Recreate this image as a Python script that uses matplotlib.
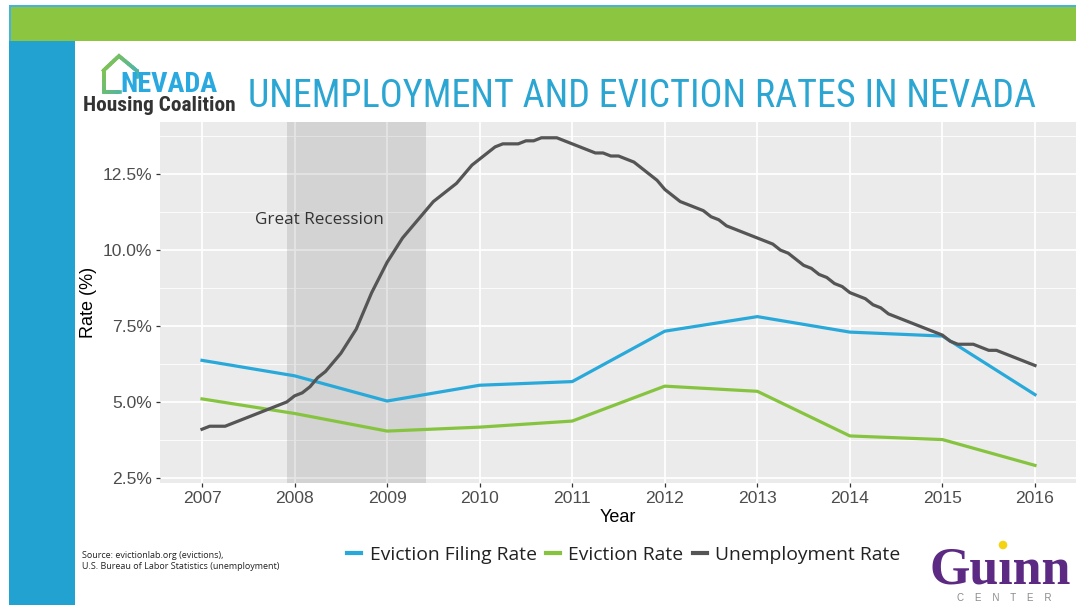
import numpy as np
import matplotlib
matplotlib.use("Agg")
import matplotlib.pyplot as plt
from matplotlib import font_manager
from matplotlib.collections import LineCollection
from matplotlib.patches import Rectangle, Circle
from matplotlib.lines import Line2D
from matplotlib.colors import to_rgb

# ---------------- data ----------------
years = [2007, 2008, 2009, 2010, 2011, 2012, 2013, 2014, 2015, 2016]
eviction_filing_rate = [6.37, 5.86, 5.03, 5.55, 5.67, 7.33, 7.81, 7.30, 7.17, 5.24]
eviction_rate = [5.10, 4.62, 4.04, 4.17, 4.37, 5.52, 5.35, 3.88, 3.76, 2.91]

# monthly unemployment rate, Jan 2007 .. Jan 2016
unemp_2007 = [4.1, 4.2, 4.2, 4.2, 4.3, 4.4, 4.5, 4.6, 4.7, 4.8, 4.9, 5.0]
unemp_2008 = [5.2, 5.3, 5.5, 5.8, 6.0, 6.3, 6.6, 7.0, 7.4, 8.0, 8.6, 9.1]
unemp_2009 = [9.6, 10.0, 10.4, 10.7, 11.0, 11.3, 11.6, 11.8, 12.0, 12.2, 12.5, 12.8]
unemp_2010 = [13.0, 13.2, 13.4, 13.5, 13.5, 13.5, 13.6, 13.6, 13.7, 13.7, 13.7, 13.6]
unemp_2011 = [13.5, 13.4, 13.3, 13.2, 13.2, 13.1, 13.1, 13.0, 12.9, 12.7, 12.5, 12.3]
unemp_2012 = [12.0, 11.8, 11.6, 11.5, 11.4, 11.3, 11.1, 11.0, 10.8, 10.7, 10.6, 10.5]
unemp_2013 = [10.4, 10.3, 10.2, 10.0, 9.9, 9.7, 9.5, 9.4, 9.2, 9.1, 8.9, 8.8]
unemp_2014 = [8.6, 8.5, 8.4, 8.2, 8.1, 7.9, 7.8, 7.7, 7.6, 7.5, 7.4, 7.3]
unemp_2015 = [7.2, 7.0, 6.9, 6.9, 6.9, 6.8, 6.7, 6.7, 6.6, 6.5, 6.4, 6.3]
unemp_2016 = [6.2]
unemployment_rate = (unemp_2007 + unemp_2008 + unemp_2009 + unemp_2010 + unemp_2011 +
                     unemp_2012 + unemp_2013 + unemp_2014 + unemp_2015 + unemp_2016)

recession = [2007 + 11 / 12, 2009 + 5 / 12]   # Dec 2007 - Jun 2009
y_ticks = [2.5, 5.0, 7.5, 10.0, 12.5]
y_minor = [3.75, 6.25, 8.75, 11.25, 13.75]
series_labels = ["Eviction Filing Rate", "Eviction Rate", "Unemployment Rate"]

title_text = "UNEMPLOYMENT AND EVICTION RATES IN NEVADA"
source_text = "Source: evictionlab.org (evictions),\nU.S. Bureau of Labor Statistics (unemployment)"

# ---------------- fonts ----------------
avail = {f.name for f in font_manager.fontManager.ttflist}
def pick(*names):
    for n in names:
        if n in avail:
            return n
    return "DejaVu Sans"

F_COND = pick("Liberation Sans Narrow", "Roboto Condensed", "Open Sans Condensed", "Roboto")
F_HUM = pick("Open Sans", "Noto Sans", "Lato")
F_AX = pick("Liberation Sans", "Arimo", "DejaVu Sans")
F_SERIF = pick("Liberation Serif", "DejaVu Serif")

C_BLUE = "#29A9DA"
C_GREEN = "#86C440"
C_GREY = "#555555"

W, H = 1076, 605
fig = plt.figure(figsize=(W / 100, H / 100), dpi=100)
fig.patch.set_facecolor("white")

# background / decoration axes in pixel coordinates
bg = fig.add_axes([0, 0, 1, 1], zorder=0)
bg.set_xlim(0, W)
bg.set_ylim(H, 0)
bg.axis("off")
bg.add_patch(Rectangle((9, 5), W - 9, 2.2, color="#45B3E0", lw=0))
bg.add_patch(Rectangle((11, 7), W - 11, 34, color="#8CC540", lw=0))
bg.add_patch(Rectangle((9, 5), 2.2, 36, color="#45B3E0", lw=0))
bg.add_patch(Rectangle((9, 41), 66, H - 41, color="#21A2D0", lw=0))

# Nevada Housing Coalition logo: house outline with gradient
house = np.array([[120, 92], [103.5, 92], [103.5, 70.5], [119, 56], [136.5, 70.5], [136.5, 77]])
segs, cols = [], []
c0, c1 = np.array(to_rgb("#8CC63F")), np.array(to_rgb("#3AAFC8"))
for i in range(len(house) - 1):
    for k in range(10):
        a = house[i] + (house[i + 1] - house[i]) * k / 10
        b = house[i] + (house[i + 1] - house[i]) * (k + 1) / 10
        segs.append([a, b])
        t = np.clip(((a[0] - 103) / 34 * 0.6 + (a[1] - 56) / 36 * 0.4), 0, 1)
        cols.append(c0 * (1 - t) + c1 * t)
bg.add_collection(LineCollection(segs, colors=cols, linewidths=2.6, capstyle="projecting"))

texts_fit = []
t_nev = bg.text(120, 91.5, "NEVADA", color="#29A9E0", fontfamily=F_COND, fontweight="bold",
                fontsize=16, ha="left", va="baseline")
texts_fit.append((t_nev, 97))
t_hc = bg.text(83, 111, "Housing Coalition", color="#333333", fontfamily=F_COND, fontweight="bold",
               fontsize=12, ha="left", va="baseline")
texts_fit.append((t_hc, 153))
t_title = bg.text(248, 107, title_text, color="#2BA6D3", fontfamily=F_COND,
                  fontsize=28, ha="left", va="baseline")
texts_fit.append((t_title, 790))

bg.text(82, 551.5, source_text, color="#222222", fontfamily=F_HUM, fontsize=6.45,
        ha="left", va="top", linespacing=1.25)

# Guinn Center logo
t_g = bg.text(929, 583, "Gu\u0131nn", color="#5C2A82", fontfamily=F_SERIF, fontweight="bold",
              fontsize=32, ha="left", va="baseline")
texts_fit.append((t_g, 142))
bg.add_patch(Circle((1003, 545), 4.3, color="#F4D313", lw=0))
bg.text(1004, 601, "C    E    N    T    E    R", color="#8A8A8A", fontfamily=F_AX, fontsize=7.0,
        ha="center", va="baseline")

# ---------------- main chart ----------------
px_per_year = (1035 - 202) / 9
x0 = 2007 - (202 - 160) / px_per_year
x1 = x0 + (W - 160) / px_per_year
ax = fig.add_axes([160 / W, (H - 483) / H, (W - 160) / W, (483 - 122) / H], zorder=1)
ax.set_facecolor("#EBEBEB")
ax.set_xlim(x0, x1)
ax.set_ylim(2.33, 14.22)
for s in ax.spines.values():
    s.set_visible(False)

ax.set_xticks(years)
ax.set_xticklabels([str(y) for y in years])
ax.set_yticks(y_ticks)
ax.set_yticklabels([f"{v:.1f}%" for v in y_ticks])
ax.set_yticks(y_minor, minor=True)
ax.tick_params(axis="both", which="major", length=3.2, width=0.9, color="#333333",
               labelcolor="#4D4D4D", labelsize=12.6, pad=2.5)
ax.tick_params(axis="y", which="minor", length=0)
for lab in ax.get_xticklabels() + ax.get_yticklabels():
    lab.set_fontfamily(F_AX)
ax.grid(True, which="major", color="white", lw=1.25)
ax.grid(True, which="minor", axis="y", color="white", lw=0.6)
ax.set_axisbelow(True)

ax.axvspan(recession[0], recession[1], color="black", alpha=0.1, lw=0, zorder=1.5)

months = 2007 + np.arange(len(unemployment_rate)) / 12
l1, = ax.plot(years, eviction_filing_rate, color=C_BLUE, lw=2.3, zorder=3, solid_joinstyle="round")
l2, = ax.plot(years, eviction_rate, color=C_GREEN, lw=2.3, zorder=3, solid_joinstyle="round")
l3, = ax.plot(months, unemployment_rate, color=C_GREY, lw=2.3, zorder=3.1, solid_joinstyle="round")

ax.text(2008.27, 11.0, "Great Recession", fontfamily=F_HUM, color="#333333", fontsize=12.3,
        ha="center", va="center")

ax.set_xlabel("Year", fontfamily=F_AX, fontsize=13, color="black", labelpad=2)
ax.set_ylabel("Rate (%)", fontfamily=F_AX, fontsize=13, color="black", labelpad=4)

leg_handles = [Line2D([], [], color=c, lw=3) for c in (C_BLUE, C_GREEN, C_GREY)]
fig.legend(leg_handles, series_labels, loc="center", bbox_to_anchor=(624 / W, 1 - 555 / H),
           ncol=3, frameon=False, handlelength=0.7, handletextpad=0.45, columnspacing=0.5,
           prop={"family": F_HUM, "size": 13.9}, labelcolor="#222222")

# fit some text widths
fig.canvas.draw()
r = fig.canvas.get_renderer()
for t, target in texts_fit:
    w = t.get_window_extent(r).width
    t.set_fontsize(t.get_fontsize() * target / w)

fig.savefig("out.png", dpi=100, facecolor="white")
